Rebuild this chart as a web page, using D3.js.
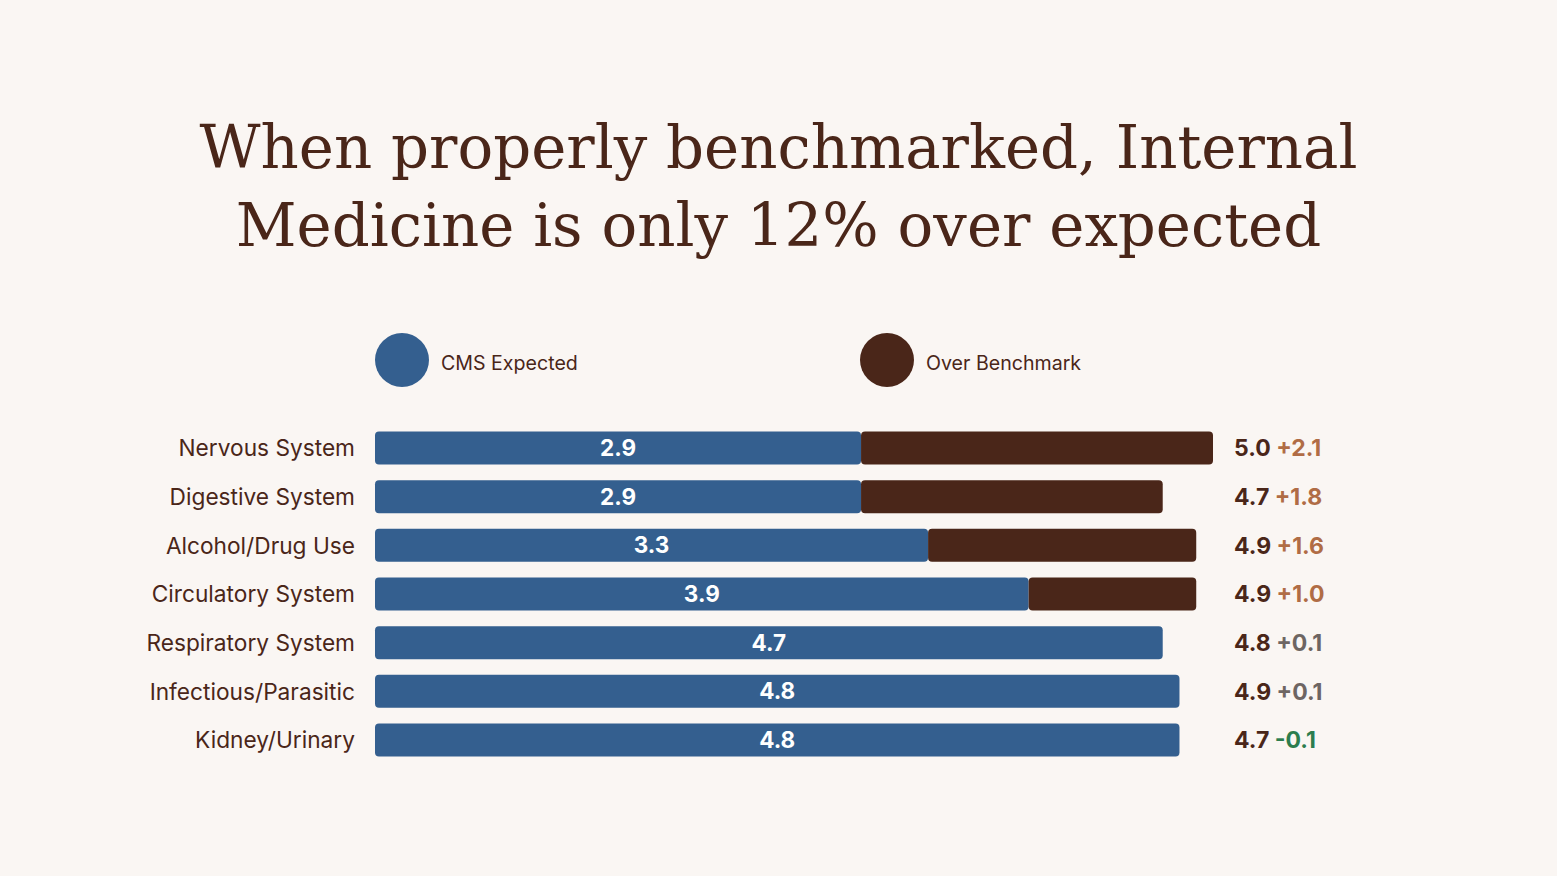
<!DOCTYPE html>
<html>
<head>
<meta charset="utf-8">
<script src="https://cdn.jsdelivr.net/npm/d3@7"></script>
<style>
  html, body { margin: 0; padding: 0; background: #faf6f3; }
  svg { display: block; }
</style>
</head>
<body>
<div id="chart"></div>
<script>
// data
const categories = ["Nervous System", "Digestive System", "Alcohol/Drug Use",
  "Circulatory System", "Respiratory System", "Infectious/Parasitic", "Kidney/Urinary"];
const expected = [2.9, 2.9, 3.3, 3.9, 4.7, 4.8, 4.8];
const actual = [5.0, 4.7, 4.9, 4.9, 4.8, 4.9, 4.7];
const overBar = [2.1, 1.8, 1.6, 1.0, 0, 0, 0];   // brown segment drawn on the bar
const deltaLabels = ["+2.1", "+1.8", "+1.6", "+1.0", "+0.1", "+0.1", "-0.1"];
const titleLines = ["When properly benchmarked, Internal", "Medicine is only 12% over expected"];
const legendItems = ["CMS Expected", "Over Benchmark"];

const W = 1557, H = 876;
const C = {
  bg: "#faf6f3", blue: "#345f8f", brown: "#4a2619",
  orange: "#b06c45", grey: "#6d6562", green: "#2c7d4e"
};
const sans = "Inter, 'Noto Sans', sans-serif";

const svg = d3.select("#chart").append("svg")
  .attr("width", W).attr("height", H);

svg.append("rect").attr("width", W).attr("height", H).attr("fill", C.bg);

// title, sized so line one spans the same width as the reference
const titleText = svg.append("g").selectAll("text").data(titleLines).enter().append("text")
  .attr("x", W / 2)
  .attr("y", (d, i) => 168 + i * 78)
  .attr("text-anchor", "middle")
  .attr("fill", C.brown)
  .style("font-family", "'DejaVu Serif', serif")
  .style("font-size", "62px")
  .text(d => d);
const w0 = titleText.node().getComputedTextLength();
titleText.style("font-size", (62 * 1158 / w0) + "px");

// scales
const step = (740 - 448) / 6;
const x = d3.scaleLinear().domain([0, 5]).range([375, 1213]);
const y = d3.scaleBand().domain(categories)
  .range([448 - step / 2, 740 + step / 2])
  .paddingInner(1 - 33 / step).paddingOuter((1 - 33 / step) / 2);

// legend
const legend = svg.selectAll("g.legend").data(legendItems).enter().append("g")
  .attr("class", "legend")
  .attr("transform", (d, i) => "translate(" + [402 + i * 485, 360] + ")");
legend.append("circle").attr("r", 27).attr("fill", (d, i) => i ? C.brown : C.blue);
legend.append("text").attr("x", 39).attr("y", 3).attr("dy", "0.36em")
  .attr("fill", C.brown)
  .style("font-family", sans).style("font-size", "19.6px")
  .text(d => d);

const rows = svg.selectAll("g.row").data(categories).enter().append("g")
  .attr("class", "row")
  .attr("transform", d => "translate(0," + y(d) + ")");

const bh = y.bandwidth();

rows.append("text")
  .attr("x", 355).attr("y", bh / 2).attr("dy", "0.36em")
  .attr("text-anchor", "end")
  .attr("fill", C.brown)
  .style("font-family", sans).style("font-size", "22.7px")
  .text(d => d);

rows.append("rect")
  .attr("x", x(0)).attr("height", bh)
  .attr("width", (d, i) => x(expected[i]) - x(0))
  .attr("rx", 4)
  .attr("fill", C.blue);

rows.filter((d, i) => overBar[i] > 0).append("rect")
  .attr("x", d => x(expected[categories.indexOf(d)]))
  .attr("height", bh)
  .attr("width", d => { const i = categories.indexOf(d); return x(expected[i] + overBar[i]) - x(expected[i]); })
  .attr("rx", 4)
  .attr("fill", C.brown);

rows.append("text")
  .attr("x", (d, i) => (x(0) + x(expected[i])) / 2)
  .attr("y", bh / 2).attr("dy", "0.36em")
  .attr("text-anchor", "middle")
  .attr("fill", "#fff")
  .style("font-family", sans).style("font-size", "22.5px").style("font-weight", 700)
  .text((d, i) => expected[i].toFixed(1));

const val = rows.append("text")
  .attr("x", 1234).attr("y", bh / 2).attr("dy", "0.36em")
  .style("font-family", sans).style("font-size", "23px").style("font-weight", 700);
val.append("tspan").attr("fill", C.brown).text((d, i) => actual[i].toFixed(1) + " ");
val.append("tspan")
  .attr("fill", (d, i) => {
    const v = parseFloat(deltaLabels[i]);
    return v < 0 ? C.green : v < 0.5 ? C.grey : C.orange;
  })
  .text((d, i) => deltaLabels[i]);
</script>
</body>
</html>
